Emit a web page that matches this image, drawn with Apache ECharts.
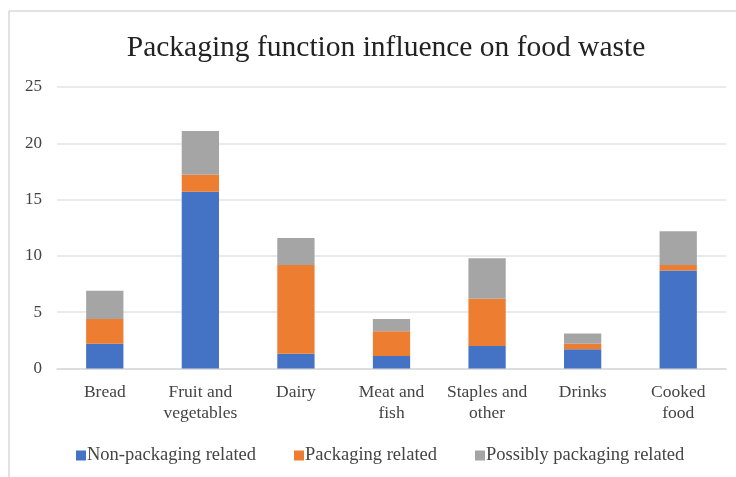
<!DOCTYPE html>
<html>
<head>
<meta charset="utf-8">
<style>
  html, body { margin: 0; padding: 0; background: #fff; }
  #chart { width: 736px; height: 477px; }
</style>
<script src="https://cdn.jsdelivr.net/npm/echarts@6/dist/echarts.min.js"></script>
</head>
<body>
<div id="chart"></div>
<script>
// Food categories and waste amounts by packaging relation
const categories = ['Bread', 'Fruit and\nvegetables', 'Dairy', 'Meat and\nfish', 'Staples and\nother', 'Drinks', 'Cooked\nfood'];
const nonPackaging = [2.2, 15.7, 1.3, 1.1, 2.0, 1.7, 8.7];
const packaging = [2.2, 1.5, 7.9, 2.2, 4.2, 0.5, 0.5];
const possiblyPackaging = [2.5, 3.9, 2.4, 1.1, 3.6, 0.9, 3.0];
const seriesNames = ['Non-packaging related', 'Packaging related', 'Possibly packaging related'];
const colors = ['#4472C4', '#ED7D31', '#A5A5A5'];

const font = '"Liberation Serif", "Times New Roman", serif';
const chart = echarts.init(document.getElementById('chart'), null, { renderer: 'canvas' });

chart.setOption({
  animation: false,
  backgroundColor: '#fff',
  color: colors,
  textStyle: { fontFamily: font },
  title: {
    text: 'Packaging function influence on food waste',
    left: 381, textAlign: 'center', top: 28,
    textStyle: { fontFamily: font, fontSize: 29.5, fontWeight: 'normal', color: '#222' }
  },
  graphic: [
    { type: 'line', shape: { x1: 9, y1: 11, x2: 736, y2: 11 }, style: { stroke: '#d9d9d9', lineWidth: 1.5 } },
    { type: 'line', shape: { x1: 9, y1: 11, x2: 9, y2: 477 }, style: { stroke: '#d9d9d9', lineWidth: 1.5 } }
  ],
  legend: {
    top: 441, left: 71,
    itemWidth: 10, itemHeight: 10, itemGap: 38,
    icon: 'rect',
    textStyle: { fontFamily: font, fontSize: 18.5, color: '#444', padding: [0, 0, 0, -4] },
    data: seriesNames
  },
  grid: { left: 57, right: 10, top: 87, bottom: 108.5, containLabel: false },
  xAxis: {
    type: 'category',
    data: categories,
    axisLine: { lineStyle: { color: '#d9d9d9', width: 1.5 } },
    axisTick: { show: false },
    axisLabel: { interval: 0, fontFamily: font, fontSize: 17.5, color: '#444', margin: 13, lineHeight: 21 }
  },
  yAxis: {
    type: 'value', min: 0, max: 25, interval: 5,
    axisLine: { show: false }, axisTick: { show: false },
    splitLine: { lineStyle: { color: '#e3e3e3', width: 1.5 } },
    axisLabel: { fontFamily: font, fontSize: 17, color: '#444', margin: 15 }
  },
  series: [
    { name: seriesNames[0], type: 'bar', stack: 'waste', data: nonPackaging, barWidth: '39%' },
    { name: seriesNames[1], type: 'bar', stack: 'waste', data: packaging, barWidth: '39%' },
    { name: seriesNames[2], type: 'bar', stack: 'waste', data: possiblyPackaging, barWidth: '39%' }
  ]
});
</script>
</body>
</html>
